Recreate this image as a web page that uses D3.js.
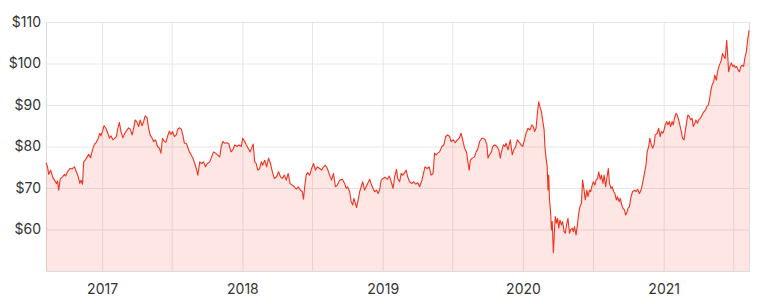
<!DOCTYPE html>
<html>
<head>
<meta charset="utf-8">
<script src="https://cdn.jsdelivr.net/npm/d3@7"></script>
<style>
  body { margin: 0; background: #fff; }
  svg { display: block; font-family: Inter, "Noto Sans", sans-serif; }
</style>
</head>
<body>
<svg id="chart" width="768" height="304"></svg>
<script>
// closing prices, [date, price]
const prices2016 = [
  ['2016-08-08', 76.1], ['2016-08-12', 75.1], ['2016-08-15', 73.3], ['2016-08-20', 74.3], ['2016-08-26', 72.5],
  ['2016-08-30', 71.9], ['2016-09-04', 71.1], ['2016-09-07', 71.7], ['2016-09-10', 69.5], ['2016-09-14', 72.2],
  ['2016-09-20', 72.7], ['2016-09-25', 73.3], ['2016-09-28', 72.9], ['2016-10-03', 73.9], ['2016-10-09', 74.7],
  ['2016-10-15', 74.6], ['2016-10-21', 75.1], ['2016-10-26', 73.9], ['2016-10-31', 72.7], ['2016-11-04', 71.1],
  ['2016-11-07', 71.9], ['2016-11-11', 70.9], ['2016-11-14', 76.3], ['2016-11-18', 76.7], ['2016-11-23', 77.5],
  ['2016-11-27', 78.1], ['2016-12-02', 77.3], ['2016-12-07', 79.2], ['2016-12-12', 80.5], ['2016-12-17', 81.0],
  ['2016-12-22', 82.0], ['2016-12-26', 83.2], ['2016-12-29', 82.6]
];
const prices2017 = [
  ['2017-01-02', 83.7], ['2017-01-06', 85.0], ['2017-01-11', 84.4], ['2017-01-16', 83.2], ['2017-01-20', 82.0],
  ['2017-01-24', 82.6], ['2017-01-29', 81.6], ['2017-02-03', 82.0], ['2017-02-07', 82.4], ['2017-02-10', 84.0],
  ['2017-02-15', 85.8], ['2017-02-19', 83.6], ['2017-02-24', 82.1], ['2017-03-01', 83.2], ['2017-03-07', 84.0],
  ['2017-03-11', 84.5], ['2017-03-15', 84.2], ['2017-03-20', 82.8], ['2017-03-24', 84.4], ['2017-03-28', 86.4],
  ['2017-04-02', 85.8], ['2017-04-06', 84.8], ['2017-04-10', 86.4], ['2017-04-15', 85.0], ['2017-04-19', 86.0],
  ['2017-04-23', 87.4], ['2017-04-28', 86.9], ['2017-05-02', 84.4], ['2017-05-06', 82.8], ['2017-05-11', 82.0],
  ['2017-05-15', 81.2], ['2017-05-20', 81.6], ['2017-05-25', 80.0], ['2017-05-30', 79.6], ['2017-06-03', 78.4],
  ['2017-06-07', 82.0], ['2017-06-12', 81.2], ['2017-06-16', 81.0], ['2017-06-20', 82.4], ['2017-06-25', 83.7],
  ['2017-06-29', 82.9], ['2017-07-03', 83.6], ['2017-07-08', 82.4], ['2017-07-13', 82.8], ['2017-07-17', 84.2],
  ['2017-07-22', 84.5], ['2017-07-26', 84.2], ['2017-07-30', 82.8], ['2017-08-03', 80.8], ['2017-08-08', 80.8],
  ['2017-08-11', 80.0], ['2017-08-16', 78.7], ['2017-08-20', 78.1], ['2017-08-25', 77.2], ['2017-08-30', 75.9],
  ['2017-09-03', 74.7], ['2017-09-07', 73.1], ['2017-09-12', 76.3], ['2017-09-17', 75.9], ['2017-09-22', 76.3],
  ['2017-09-27', 75.1], ['2017-10-02', 75.9], ['2017-10-08', 76.3], ['2017-10-13', 77.5], ['2017-10-18', 78.7],
  ['2017-10-23', 78.4], ['2017-10-28', 78.0], ['2017-11-03', 77.5], ['2017-11-07', 80.0], ['2017-11-11', 81.2],
  ['2017-11-16', 80.8], ['2017-11-22', 80.9], ['2017-11-27', 80.6], ['2017-12-02', 78.7], ['2017-12-07', 79.2],
  ['2017-12-12', 80.4], ['2017-12-18', 80.0], ['2017-12-23', 80.4], ['2017-12-29', 80.0]
];
const prices2018 = [
  ['2018-01-02', 82.0], ['2018-01-07', 81.2], ['2018-01-11', 80.4], ['2018-01-16', 79.6], ['2018-01-21', 78.7],
  ['2018-01-25', 79.6], ['2018-01-29', 80.6], ['2018-02-02', 76.3], ['2018-02-06', 75.9], ['2018-02-10', 74.3],
  ['2018-02-15', 74.7], ['2018-02-19', 76.3], ['2018-02-23', 75.5], ['2018-02-28', 76.7], ['2018-03-05', 75.1],
  ['2018-03-10', 77.2], ['2018-03-15', 75.9], ['2018-03-20', 73.9], ['2018-03-25', 72.3], ['2018-03-31', 72.7],
  ['2018-04-05', 73.9], ['2018-04-10', 72.7], ['2018-04-15', 72.3], ['2018-04-20', 73.1], ['2018-04-25', 71.9],
  ['2018-04-30', 73.5], ['2018-05-05', 71.1], ['2018-05-11', 70.7], ['2018-05-16', 70.3], ['2018-05-21', 69.7],
  ['2018-05-26', 70.3], ['2018-06-01', 69.5], ['2018-06-06', 69.1], ['2018-06-09', 67.3], ['2018-06-12', 70.3],
  ['2018-06-16', 73.1], ['2018-06-20', 73.7], ['2018-06-25', 73.1], ['2018-06-30', 74.7], ['2018-07-05', 75.9],
  ['2018-07-10', 74.3], ['2018-07-15', 75.1], ['2018-07-21', 74.7], ['2018-07-26', 74.3], ['2018-07-31', 75.1],
  ['2018-08-05', 75.5], ['2018-08-10', 74.7], ['2018-08-16', 73.1], ['2018-08-21', 71.9], ['2018-08-26', 73.5],
  ['2018-08-31', 70.3], ['2018-09-05', 70.7], ['2018-09-11', 71.9], ['2018-09-18', 72.1], ['2018-09-24', 71.1],
  ['2018-09-28', 69.9], ['2018-10-02', 70.3], ['2018-10-07', 69.1], ['2018-10-11', 66.7], ['2018-10-15', 65.9],
  ['2018-10-18', 67.5], ['2018-10-22', 66.3], ['2018-10-25', 65.3], ['2018-10-29', 67.1], ['2018-11-02', 69.1],
  ['2018-11-06', 70.3], ['2018-11-10', 71.5], ['2018-11-15', 69.5], ['2018-11-19', 70.3], ['2018-11-23', 71.1],
  ['2018-11-28', 72.1], ['2018-12-03', 70.7], ['2018-12-07', 69.9], ['2018-12-11', 69.1], ['2018-12-16', 69.5],
  ['2018-12-20', 68.7], ['2018-12-24', 69.5], ['2018-12-28', 71.9]
];
const prices2019 = [
  ['2019-01-02', 72.3], ['2019-01-07', 72.6], ['2019-01-13', 72.1], ['2019-01-18', 72.9], ['2019-01-23', 71.5],
  ['2019-01-28', 69.9], ['2019-02-01', 72.7], ['2019-02-06', 74.5], ['2019-02-09', 72.3], ['2019-02-14', 71.5],
  ['2019-02-18', 73.5], ['2019-02-22', 73.1], ['2019-02-27', 73.7], ['2019-03-03', 74.3], ['2019-03-07', 72.7],
  ['2019-03-12', 71.5], ['2019-03-18', 71.1], ['2019-03-23', 71.5], ['2019-03-28', 70.9], ['2019-04-02', 71.3],
  ['2019-04-07', 70.3], ['2019-04-13', 71.9], ['2019-04-18', 73.9], ['2019-04-21', 75.1], ['2019-04-27', 74.7],
  ['2019-05-02', 75.1], ['2019-05-07', 73.1], ['2019-05-12', 73.5], ['2019-05-16', 78.4], ['2019-05-20', 78.0],
  ['2019-05-24', 78.4], ['2019-05-29', 78.7], ['2019-06-04', 80.0], ['2019-06-09', 80.4], ['2019-06-14', 82.4],
  ['2019-06-19', 82.8], ['2019-06-24', 82.4], ['2019-06-28', 81.2], ['2019-07-04', 81.6], ['2019-07-09', 80.9],
  ['2019-07-14', 81.6], ['2019-07-19', 82.0], ['2019-07-24', 83.2], ['2019-07-28', 81.6], ['2019-08-02', 79.6],
  ['2019-08-07', 78.7], ['2019-08-10', 76.7], ['2019-08-14', 74.3], ['2019-08-17', 76.7], ['2019-08-22', 77.2],
  ['2019-08-28', 77.5], ['2019-09-01', 78.7], ['2019-09-05', 79.3], ['2019-09-10', 81.2], ['2019-09-16', 82.0],
  ['2019-09-20', 82.0], ['2019-09-25', 81.6], ['2019-09-29', 80.4], ['2019-10-02', 77.2], ['2019-10-06', 78.0],
  ['2019-10-11', 78.7], ['2019-10-14', 80.0], ['2019-10-20', 80.4], ['2019-10-25', 80.0], ['2019-10-30', 79.2],
  ['2019-11-03', 77.2], ['2019-11-06', 78.7], ['2019-11-11', 80.4], ['2019-11-15', 80.0], ['2019-11-18', 80.8],
  ['2019-11-23', 79.2], ['2019-11-29', 81.6], ['2019-12-04', 78.0], ['2019-12-08', 79.2], ['2019-12-13', 80.0],
  ['2019-12-17', 81.6], ['2019-12-21', 81.2], ['2019-12-27', 80.4], ['2019-12-31', 80.0]
];
const prices2020 = [
  ['2020-01-05', 81.6], ['2020-01-09', 83.2], ['2020-01-14', 84.4], ['2020-01-19', 84.0], ['2020-01-24', 85.2],
  ['2020-01-28', 84.8], ['2020-01-31', 83.6], ['2020-02-04', 84.4], ['2020-02-07', 87.6], ['2020-02-11', 90.8],
  ['2020-02-14', 89.6], ['2020-02-18', 88.4], ['2020-02-21', 86.4], ['2020-02-25', 84.0], ['2020-02-27', 80.0],
  ['2020-03-01', 77.2], ['2020-03-04', 75.1], ['2020-03-06', 69.5], ['2020-03-08', 73.1], ['2020-03-10', 67.1],
  ['2020-03-13', 63.9], ['2020-03-15', 59.9], ['2020-03-17', 61.9], ['2020-03-20', 54.4], ['2020-03-23', 59.9],
  ['2020-03-25', 63.1], ['2020-03-28', 61.5], ['2020-03-31', 62.7], ['2020-04-03', 60.3], ['2020-04-06', 62.3],
  ['2020-04-10', 61.1], ['2020-04-13', 61.9], ['2020-04-17', 59.5], ['2020-04-20', 59.1], ['2020-04-24', 61.5],
  ['2020-04-27', 62.7], ['2020-05-01', 59.1], ['2020-05-04', 59.9], ['2020-05-08', 60.3], ['2020-05-11', 59.5],
  ['2020-05-14', 60.7], ['2020-05-18', 58.7], ['2020-05-21', 60.7], ['2020-05-25', 63.9], ['2020-05-28', 65.5],
  ['2020-06-01', 66.3], ['2020-06-04', 71.9], ['2020-06-08', 69.5], ['2020-06-11', 67.1], ['2020-06-15', 69.5],
  ['2020-06-18', 67.9], ['2020-06-22', 69.5], ['2020-06-25', 69.1], ['2020-06-29', 70.7], ['2020-07-02', 71.5],
  ['2020-07-06', 70.7], ['2020-07-09', 71.9], ['2020-07-13', 72.3], ['2020-07-16', 73.9], ['2020-07-20', 72.1],
  ['2020-07-23', 73.1], ['2020-07-27', 71.1], ['2020-07-30', 73.1], ['2020-08-03', 70.3], ['2020-08-06', 72.3],
  ['2020-08-10', 74.7], ['2020-08-13', 71.1], ['2020-08-17', 69.9], ['2020-08-20', 70.3], ['2020-08-24', 69.1],
  ['2020-08-27', 68.7], ['2020-08-31', 67.1], ['2020-09-03', 67.9], ['2020-09-07', 66.7], ['2020-09-10', 67.5],
  ['2020-09-14', 65.9], ['2020-09-17', 65.1], ['2020-09-21', 64.7], ['2020-09-24', 63.5], ['2020-09-28', 64.3],
  ['2020-09-30', 65.1], ['2020-10-04', 65.5], ['2020-10-08', 67.9], ['2020-10-12', 69.1], ['2020-10-17', 69.5],
  ['2020-10-21', 69.1], ['2020-10-25', 69.7], ['2020-10-30', 68.7], ['2020-11-03', 69.5], ['2020-11-07', 71.1],
  ['2020-11-12', 73.5], ['2020-11-16', 75.5], ['2020-11-19', 78.7], ['2020-11-23', 80.0], ['2020-11-26', 82.0],
  ['2020-11-30', 80.4], ['2020-12-03', 79.6], ['2020-12-07', 80.4], ['2020-12-10', 82.8], ['2020-12-15', 83.2],
  ['2020-12-19', 84.4], ['2020-12-23', 82.4], ['2020-12-26', 83.6], ['2020-12-30', 83.2]
];
const prices2021 = [
  ['2021-01-02', 84.0], ['2021-01-05', 85.2], ['2021-01-09', 86.0], ['2021-01-12', 85.2], ['2021-01-16', 86.0],
  ['2021-01-19', 84.8], ['2021-01-23', 86.0], ['2021-01-26', 85.2], ['2021-01-29', 86.8], ['2021-02-02', 88.0],
  ['2021-02-05', 87.6], ['2021-02-09', 86.4], ['2021-02-12', 85.2], ['2021-02-16', 83.6], ['2021-02-19', 82.0],
  ['2021-02-23', 81.6], ['2021-02-26', 83.6], ['2021-03-02', 86.0], ['2021-03-05', 87.6], ['2021-03-09', 87.2],
  ['2021-03-12', 86.4], ['2021-03-16', 86.8], ['2021-03-19', 84.8], ['2021-03-23', 85.6], ['2021-03-26', 86.4],
  ['2021-03-30', 85.6], ['2021-04-02', 86.4], ['2021-04-06', 86.8], ['2021-04-09', 87.2], ['2021-04-13', 88.0],
  ['2021-04-16', 88.4], ['2021-04-20', 88.8], ['2021-04-23', 89.6], ['2021-04-27', 90.0], ['2021-04-30', 91.2],
  ['2021-05-04', 93.6], ['2021-05-07', 94.8], ['2021-05-11', 95.6], ['2021-05-14', 97.2], ['2021-05-18', 96.0],
  ['2021-05-21', 98.0], ['2021-05-25', 99.3], ['2021-05-28', 100.1], ['2021-05-31', 100.8], ['2021-06-03', 102.4],
  ['2021-06-07', 101.6], ['2021-06-10', 101.2], ['2021-06-14', 105.6], ['2021-06-16', 102.8], ['2021-06-19', 98.0],
  ['2021-06-23', 99.6], ['2021-06-26', 100.1], ['2021-06-30', 99.3], ['2021-07-03', 99.6], ['2021-07-07', 99.0],
  ['2021-07-10', 99.3], ['2021-07-14', 98.4], ['2021-07-17', 98.0], ['2021-07-21', 99.3], ['2021-07-24', 99.6],
  ['2021-07-28', 99.3], ['2021-07-31', 101.2], ['2021-08-04', 102.8], ['2021-08-07', 105.2], ['2021-08-11', 108.0]
];

const yTicks = [60, 70, 80, 90, 100, 110];
const yMin = 50;

const parse = d3.timeParse('%Y-%m-%d');
const data = [].concat(prices2016, prices2017, prices2018, prices2019, prices2020, prices2021)
  .map(d => ({ date: parse(d[0]), price: d[1] }));

const svg = d3.select('#chart');
const margin = { top: 22, right: 19, bottom: 33, left: 46 };
const width = 768 - margin.left - margin.right;
const height = 304 - margin.top - margin.bottom;

const g = svg.append('g').attr('transform', `translate(${margin.left},${margin.top})`);

const x = d3.scaleTime().domain(d3.extent(data, d => d.date)).range([0, width]);
const y = d3.scaleLinear().domain([yMin, d3.max(yTicks)]).range([height, 0]);

// horizontal grid + labels
const yAxis = g.append('g')
  .call(d3.axisLeft(y).tickValues(yTicks).tickSize(-width).tickPadding(5).tickFormat(d => '$' + d));
yAxis.select('.domain').remove();
yAxis.selectAll('line').attr('stroke', '#e6e6e6');
yAxis.selectAll('text').attr('fill', '#333').attr('font-size', 14).attr('font-family', 'Inter, "Noto Sans", sans-serif');

// vertical grid every 6 months, year labels on January
const xAxis = g.append('g')
  .attr('transform', `translate(0,${height})`)
  .call(d3.axisBottom(x).ticks(d3.timeMonth.every(6)).tickSize(-height)
    .tickFormat(d => d.getMonth() === 0 ? d3.timeFormat('%Y')(d) : ''));
xAxis.select('.domain').attr('stroke', '#dcdcdc');
xAxis.selectAll('line').attr('stroke', '#e6e6e6');
xAxis.selectAll('text')
  .attr('dy', null).attr('y', 23)
  .attr('fill', '#333').attr('font-size', 14).attr('font-family', 'Inter, "Noto Sans", sans-serif');

const area = d3.area()
  .x(d => x(d.date))
  .y0(y(yMin))
  .y1(d => y(d.price));

const line = d3.line()
  .x(d => x(d.date))
  .y(d => y(d.price));

g.append('path')
  .datum(data)
  .attr('fill', 'rgba(240, 60, 40, 0.13)')
  .attr('d', area);

g.append('path')
  .datum(data)
  .attr('fill', 'none')
  .attr('stroke', '#f2321f')
  .attr('stroke-width', 1.1)
  .attr('stroke-linejoin', 'round')
  .attr('d', line);
</script>
</body>
</html>
